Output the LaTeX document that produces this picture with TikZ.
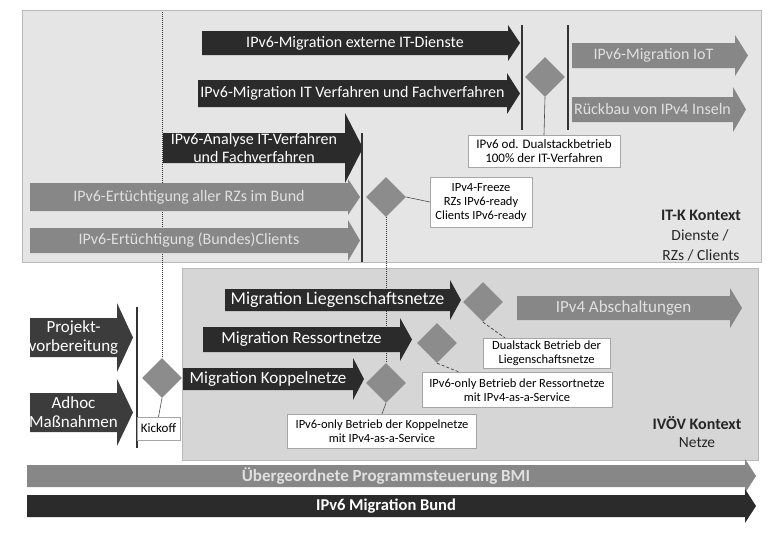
\documentclass[tikz,border=0pt]{standalone}
\usepackage{fontspec}
\setmainfont{Carlito}
\usetikzlibrary{shapes.geometric}
\definecolor{darkc}{HTML}{2B2B2B}
\definecolor{projc}{HTML}{3C3C3C}
\definecolor{midc}{HTML}{878787}
\definecolor{diac}{HTML}{8C8C8C}
\definecolor{panelA}{HTML}{E5E5E5}
\definecolor{panelB}{HTML}{D6D6D6}
\newcommand{\arrfs}{16}
\newcommand{\arrls}{18}
\tikzset{
  darkarr/.style={fill=darkc},
  darkarr text/.style={text=white,align=center,font=\fontsize{\arrfs}{\arrls}\selectfont,inner sep=0pt},
  projarr/.style={fill=projc},
  projarr text/.style={text=white,align=center,font=\fontsize{\arrfs}{\arrls}\selectfont,inner sep=0pt},
  midarr/.style={fill=midc},
  midarr text/.style={text=white!88!black,align=center,font=\fontsize{\arrfs}{\arrls}\selectfont,inner sep=0pt},
  milestone/.style={diamond,fill=diac,minimum width=40pt,minimum height=40pt,inner sep=0pt},
  labelbox/.style={draw=gray!70,fill=white,align=center,font=\fontsize{12.5}{14}\selectfont,inner sep=0.5pt},
  bar/.style={draw=black!80,line width=1.2pt},
  conn/.style={draw=gray!60!black,line width=0.6pt},
  dotconn/.style={draw=black!80,densely dotted,line width=1pt},
  dashconn/.style={draw=gray!50!black,densely dashed,line width=0.7pt},
  panel/.style={draw=gray!55,line width=0.6pt},
  ctxtitle/.style={font=\bfseries\fontsize{16}{18}\selectfont,text=black!85},
  ctxtext/.style={font=\fontsize{15.5}{18}\selectfont,text=black!85},
}
% #1 name #2 x0 #3 head start #4 tip #5 top #6 bottom #7 head extend #8 style #9 text
\newcommand{\harrow}[9]{%
  \fill[#8] (#2,#5) -- (#3,#5) -- (#3,{#5-#7}) -- (#4,{(#5+#6)/2}) -- (#3,{#6+#7}) -- (#3,#6) -- (#2,#6) -- cycle;
  \node[#8 text] (#1) at ({(#2+#3)/2},{(#5+#6)/2}) {#9};
}
\begin{document}
\begin{tikzpicture}[x=1pt,y=-1pt]
\useasboundingbox (0,0) rectangle (769,536);
\fill[white] (0,0) rectangle (769,536);
% panels
\fill[panelA,panel] (22,10) rectangle (761,262);
\fill[panelB,panel] (182,268) rectangle (758,460);
% milestone dotted lines (behind)
\coordinate (topdot) at (162,12);
\node[milestone] (dkick) at (162,378) {};
\node[milestone] (dfreeze) at (386,197) {};
\node[milestone] (dkoppel) at (386,383) {};
\draw[dotconn] (topdot) -- (dkick.north);
\draw[dotconn] (dfreeze.south) -- (dkoppel.north);
% IT-K arrows
\renewcommand{\arrfs}{16}\renewcommand{\arrls}{18}
\harrow{aext}{202}{508}{520}{31}{55}{6}{darkarr}{IPv6-Migration externe IT-Dienste}
\harrow{averf}{198}{507}{520}{80}{107}{7}{darkarr}{IPv6-Migration IT Verfahren und Fachverfahren}
\harrow{aanalyse}{163}{345}{363}{133}{163}{20}{darkarr}{IPv6-Analyse IT-Verfahren\\und Fachverfahren}
\harrow{arzs}{30}{348}{360}{183}{211}{4}{midarr}{IPv6-Ertüchtigung aller RZs im Bund}
\harrow{aclients}{30}{348}{360}{228}{253}{8}{midarr}{IPv6-Ertüchtigung (Bundes)Clients}
\harrow{aiot}{572}{735}{748}{43}{68}{8}{midarr}{IPv6-Migration IoT}
\harrow{arueck}{572}{733}{746}{97}{122}{10}{midarr}{Rückbau von IPv4 Inseln}
% bars
\draw[bar] (362,133) -- (362,262);
\draw[bar] (522,25) -- (522,130);
\draw[bar] (568,25) -- (568,130);
\draw[bar] (137,307) -- (137,448);
% top-right milestone
\node[milestone] (ddual) at (545,77) {};
\node[labelbox,minimum width=152pt,minimum height=32pt,font=\fontsize{13}{14}\selectfont] (bdual) at (544,151) {IPv6 od. Dualstackbetrieb\\100\% der IT-Verfahren};
\draw[conn] (ddual.south) -- (bdual.north);
\node[labelbox,minimum width=102pt,minimum height=50pt] (bfreeze) at (481,202) {IPv4-Freeze\\RZs IPv6-ready\\Clients IPv6-ready};
\draw[conn] (dfreeze.east) -- (bfreeze.west);
% IT-K context text
\node[ctxtitle] (itk) at (701,215) {IT-K Kontext};
\node[ctxtext] (itk2) at (700,235) {Dienste /};
\node[ctxtext] (itk3) at (701,255) {RZs / Clients};
% left arrows
\renewcommand{\arrfs}{17}\renewcommand{\arrls}{19}
\harrow{aprojekt}{30}{117}{133}{318}{357}{15}{projarr}{Projekt-\\vorbereitung}
\harrow{aadhoc}{30}{117}{133}{393}{432}{14}{projarr}{Adhoc\\Maßnahmen}
\node[labelbox,minimum width=43pt,minimum height=23pt,font=\fontsize{13}{14}\selectfont] (bkick) at (158.5,428.5) {Kickoff};
\draw[conn] (dkick.south) -- (bkick.north);
% IVOEV arrows
\renewcommand{\arrfs}{18}\renewcommand{\arrls}{20}
\harrow{alieg}{225}{450}{461}{289}{311}{9}{darkarr}{Migration Liegenschaftsnetze}
\renewcommand{\arrfs}{17}\renewcommand{\arrls}{19}
\harrow{aress}{203}{400}{412}{327}{352}{9}{darkarr}{Migration Ressortnetze}
\harrow{akopp}{183}{353}{364}{368}{390}{10}{darkarr}{Migration Koppelnetze}
\harrow{aabsch}{517}{730}{742}{296}{320}{8}{midarr}{IPv4 Abschaltungen}
\node[milestone] (dlieg) at (483,302) {};
\node[milestone] (dress) at (437,343) {};
\node[labelbox,minimum width=127pt,minimum height=30pt] (blieg) at (546.5,353) {Dualstack Betrieb der\\Liegenschaftsnetze};
\node[labelbox,minimum width=190pt,minimum height=35pt] (bress) at (517,390) {IPv6-only Betrieb der Ressortnetze\\mit IPv4-as-a-Service};
\node[labelbox,minimum width=189pt,minimum height=34pt] (bkopp) at (382,431) {IPv6-only Betrieb der Koppelnetze\\mit IPv4-as-a-Service};
\draw[dashconn] (dlieg.south) -- ([xshift=22pt]blieg.north west);
\draw[dashconn] (dress.south) -- ([xshift=38pt]bress.north west);
\draw[conn] (dkoppel.south) -- (bkopp.north);
% IVOEV context text
\node[ctxtitle] (ivoev) at (697,423) {IVÖV Kontext};
\node[ctxtext] (ivoev2) at (697,443) {Netze};
% bottom arrows
\renewcommand{\arrfs}{17}\renewcommand{\arrls}{19}
\harrow{aprog}{27}{745}{756}{465}{487}{6}{midarr}{\bfseries Übergeordnete Programmsteuerung BMI}
\renewcommand{\arrfs}{16.5}\renewcommand{\arrls}{19}
\harrow{abund}{27}{745}{756}{495}{517}{6}{darkarr}{\bfseries IPv6 Migration Bund}
\end{tikzpicture}
\end{document}
